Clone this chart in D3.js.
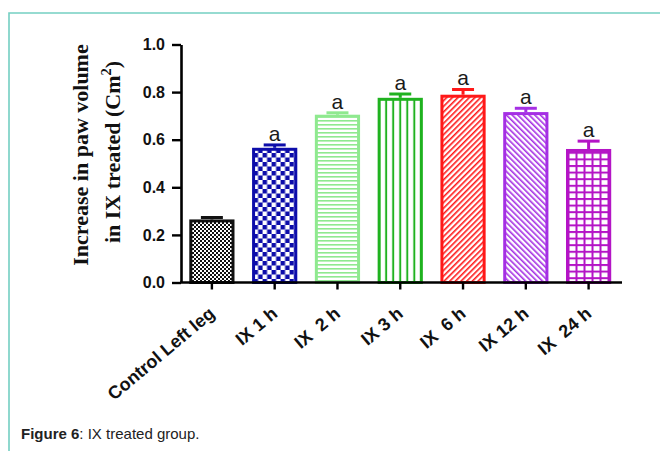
<!DOCTYPE html>
<html>
<head>
<meta charset="utf-8">
<script src="https://cdn.jsdelivr.net/npm/d3@7/dist/d3.min.js"></script>
<style>
  html, body { margin: 0; padding: 0; background: #fff; }
  svg { display: block; }
</style>
</head>
<body>
<svg id="chart" width="660" height="451"></svg>
<script>
// Paw volume increase per group (cm²), with upward SEM bars
const categories = ["Control Left leg", "IX 1 h", "IX  2 h", "IX 3 h", "IX  6 h", "IX 12 h", "IX  24 h"];
const means = [0.265, 0.566, 0.705, 0.776, 0.789, 0.716, 0.561];
const errors = [0.008, 0.012, 0.008, 0.016, 0.022, 0.016, 0.033];
const sigLetters = ["", "a", "a", "a", "a", "a", "a"];
const yTicks = [0, 0.2, 0.4, 0.6, 0.8, 1.0];
const barColors = ["#111111", "#0d0daa", "#8fe98f", "#1fb21f", "#ff1818", "#a52fe4", "#b414c6"];
const patternKinds = ["dots", "checker", "hlines", "vlines", "diagR", "diagL", "grid"];

const svg = d3.select("#chart");

// panel frame (top and left rules)
svg.append("path")
  .attr("d", "M9,451 V13 H660")
  .attr("fill", "none")
  .attr("stroke", "#74cfc2")
  .attr("stroke-width", 1.6);

const x = d3.scaleBand()
  .domain(categories)
  .range([180.5, 620])
  .paddingInner(0.28)
  .paddingOuter(0.14);

const y = d3.scaleLinear().domain([0, 1]).range([282.5, 44.5]);

// fill patterns
const defs = svg.append("defs");
categories.forEach((c, i) => {
  const col = barColors[i];
  const kind = patternKinds[i];
  const p = defs.append("pattern")
    .attr("id", "pat" + i)
    .attr("patternUnits", "userSpaceOnUse");
  if (kind === "dots") {
    p.attr("width", 4).attr("height", 4);
    p.append("rect").attr("width", 4).attr("height", 4).attr("fill", "#fff");
    p.append("rect").attr("width", 2).attr("height", 2).attr("fill", col);
    p.append("rect").attr("x", 2).attr("y", 2).attr("width", 2).attr("height", 2).attr("fill", col);
  } else if (kind === "checker") {
    p.attr("width", 9).attr("height", 9).attr("x", x(c) + 1.5).attr("y", 0);
    p.append("rect").attr("width", 9).attr("height", 9).attr("fill", "#fff");
    p.append("rect").attr("width", 4.5).attr("height", 4.5).attr("fill", col);
    p.append("rect").attr("x", 4.5).attr("y", 4.5).attr("width", 4.5).attr("height", 4.5).attr("fill", col);
  } else if (kind === "hlines") {
    p.attr("width", 8).attr("height", 4);
    p.append("rect").attr("width", 8).attr("height", 4).attr("fill", "#fff");
    p.append("rect").attr("y", 0).attr("width", 8).attr("height", 1.6).attr("fill", col);
  } else if (kind === "vlines") {
    const w = (x.bandwidth() - 3) / 6;
    p.attr("width", w).attr("height", 8).attr("x", x(c) + 1.5);
    p.append("rect").attr("width", w).attr("height", 8).attr("fill", "#fff");
    p.append("rect").attr("x", -1).attr("width", 2).attr("height", 8).attr("fill", col);
    p.append("rect").attr("x", w - 1).attr("width", 2).attr("height", 8).attr("fill", col);
  } else if (kind === "diagR" || kind === "diagL") {
    p.attr("width", 4).attr("height", 4)
      .attr("patternTransform", `rotate(${kind === "diagR" ? 45 : -45})`);
    p.append("rect").attr("width", 4).attr("height", 4).attr("fill", "#fff");
    p.append("rect").attr("width", 1.6).attr("height", 4).attr("fill", col);
  } else if (kind === "grid") {
    p.attr("width", 8).attr("height", 6.6).attr("x", x(c) + 1.5);
    p.append("rect").attr("width", 8).attr("height", 6.6).attr("fill", "#fff");
    p.append("rect").attr("x", 0).attr("width", 2).attr("height", 6.6).attr("fill", col);
    p.append("rect").attr("y", 0).attr("width", 8).attr("height", 2).attr("fill", col);
  }
});

const rows = categories.map((c, i) => ({ c, i, v: means[i], e: errors[i], s: sigLetters[i] }));

// bars
svg.append("g").selectAll("rect")
  .data(rows)
  .join("rect")
  .attr("x", d => x(d.c) + 1.5)
  .attr("y", d => y(d.v) + 1.5)
  .attr("width", x.bandwidth() - 3)
  .attr("height", d => y(0) - y(d.v) - 1.5)
  .attr("fill", d => `url(#pat${d.i})`)
  .attr("stroke", d => barColors[d.i])
  .attr("stroke-width", 3);

// error bars (upper half only)
const eb = svg.append("g").selectAll("g").data(rows).join("g")
  .attr("stroke", d => barColors[d.i])
  .attr("stroke-width", 3);
eb.append("line")
  .attr("x1", d => x(d.c) + x.bandwidth() / 2)
  .attr("x2", d => x(d.c) + x.bandwidth() / 2)
  .attr("y1", d => y(d.v))
  .attr("y2", d => y(d.v + d.e));
eb.append("line")
  .attr("x1", d => x(d.c) + x.bandwidth() / 2 - 11)
  .attr("x2", d => x(d.c) + x.bandwidth() / 2 + 11)
  .attr("y1", d => y(d.v + d.e))
  .attr("y2", d => y(d.v + d.e));

// significance letters
svg.append("g").selectAll("text")
  .data(rows.filter(d => d.s))
  .join("text")
  .attr("x", d => x(d.c) + x.bandwidth() / 2)
  .attr("y", d => y(d.v + d.e) - 4)
  .attr("text-anchor", "middle")
  .attr("font-family", "Liberation Sans, Arial, sans-serif")
  .attr("font-size", 21)
  .attr("fill", "#1a1a1a")
  .text(d => d.s);

// axes
const yAxis = svg.append("g")
  .attr("transform", "translate(181,0)")
  .call(d3.axisLeft(y).tickValues(yTicks).tickFormat(d3.format(".1f")).tickSize(9).tickSizeOuter(0).tickPadding(7));
yAxis.select(".domain").attr("stroke", "#000").attr("stroke-width", 2.6);
yAxis.selectAll(".tick line").attr("stroke", "#000").attr("stroke-width", 2.4);
yAxis.selectAll(".tick text")
  .attr("font-family", "Liberation Sans, Arial, sans-serif")
  .attr("font-weight", "bold")
  .attr("font-size", 16)
  .attr("fill", "#111");

const xAxis = svg.append("g")
  .attr("transform", `translate(0,${y(0)})`)
  .call(d3.axisBottom(x).tickSize(7).tickSizeOuter(0));
xAxis.select(".domain").attr("stroke", "#000").attr("stroke-width", 2.4)
  .attr("d", `M180,0H622`);
xAxis.selectAll(".tick line").attr("stroke", "#000").attr("stroke-width", 2.4);
xAxis.selectAll(".tick text")
  .attr("font-family", "Liberation Sans, Arial, sans-serif")
  .attr("font-weight", "bold")
  .attr("font-size", 18)
  .attr("fill", "#111")
  .style("white-space", "pre")
  .attr("text-anchor", "end")
  .attr("dy", null)
  .attr("y", 0)
  .attr("transform", "translate(4,33) rotate(-40)");

// y-axis title
const title = svg.append("g")
  .attr("font-family", "Liberation Serif, Times New Roman, serif")
  .attr("font-weight", "bold")
  .attr("font-size", 22)
  .attr("fill", "#111")
  .attr("text-anchor", "middle");
title.append("text")
  .attr("transform", "translate(88,155) rotate(-90)")
  .text("Increase in paw volume");
const t2 = title.append("text")
  .attr("transform", "translate(120,152) rotate(-90)");
t2.append("tspan").text("in IX treated (Cm");
t2.append("tspan").attr("font-size", 14.5).attr("dy", -9).text("2");
t2.append("tspan").attr("dy", 9).text(")");

// caption
const cap = svg.append("text")
  .attr("x", 21).attr("y", 439)
  .attr("font-family", "Liberation Sans, Arial, sans-serif")
  .attr("font-size", 15)
  .attr("fill", "#222");
cap.append("tspan").attr("font-weight", "bold").text("Figure 6");
cap.append("tspan").text(": IX treated group.");
</script>
</body>
</html>
